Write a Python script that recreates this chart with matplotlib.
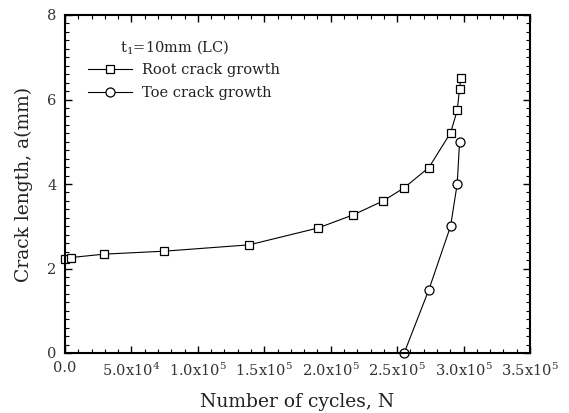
import matplotlib
matplotlib.use("Agg")
import matplotlib.pyplot as plt
from matplotlib.ticker import MultipleLocator, FixedLocator, FixedFormatter

plt.rcParams['font.family'] = ['DejaVu Serif']
plt.rcParams['mathtext.fontset'] = 'dejavuserif'

root_n = [0, 4.5e3, 2.96e4, 7.47e4, 1.387e5, 1.906e5, 2.17e5, 2.395e5, 2.553e5, 2.739e5, 2.902e5, 2.952e5, 2.970e5, 2.980e5]
root_a = [2.22, 2.26, 2.34, 2.41, 2.56, 2.96, 3.27, 3.60, 3.91, 4.39, 5.21, 5.74, 6.26, 6.52]
toe_n = [2.553e5, 2.739e5, 2.902e5, 2.952e5, 2.970e5]
toe_a = [0.0, 1.5, 3.0, 4.0, 5.0]

xticks = [0, 5e4, 1e5, 1.5e5, 2e5, 2.5e5, 3e5, 3.5e5]
xticklabels = ["0.0", "5.0x10$^4$", "1.0x10$^5$", "1.5x10$^5$", "2.0x10$^5$",
               "2.5x10$^5$", "3.0x10$^5$", "3.5x10$^5$"]
yticks = [0, 2, 4, 6, 8]

fig = plt.figure(figsize=(5.69, 4.13), dpi=100)
ax = fig.add_axes([65/569, 60/413, 465/569, 338/413])

ax.plot(root_n, root_a, color='black', lw=0.8, marker='s', ms=6,
        mfc='white', mec='black', mew=0.9, clip_on=False, label='Root crack growth')
ax.plot(toe_n, toe_a, color='black', lw=0.8, marker='o', ms=6.5,
        mfc='white', mec='black', mew=0.9, clip_on=False, label='Toe crack growth')

ax.set_xlim(0, 3.5e5)
ax.set_ylim(0, 8)
ax.xaxis.set_major_locator(FixedLocator(xticks))
ax.xaxis.set_major_formatter(FixedFormatter(xticklabels))
ax.xaxis.set_minor_locator(MultipleLocator(1e4))
ax.set_yticks(yticks)
ax.yaxis.set_minor_locator(MultipleLocator(0.2))

ax.tick_params(which='both', direction='in', top=True, right=True, labelsize=10.5, colors='black')
ax.tick_params(which='major', length=5, width=1.0, pad=6)
ax.tick_params(which='minor', length=3, width=0.8)
for lab in ax.get_xticklabels() + ax.get_yticklabels():
    lab.set_color('#333333')
for s in ax.spines.values():
    s.set_linewidth(1.5)

ax.set_xlabel("Number of cycles, N", fontsize=13.5, labelpad=10, color='#222222')
ax.set_ylabel("Crack length, a(mm)", fontsize=13.5, labelpad=10, color='#222222')

ax.text((120-65)/465, 1 - (47-15)/338, "t$_1$=10mm (LC)", transform=ax.transAxes,
        fontsize=10.5, va='center', ha='left', color='#222222')
leg = ax.legend(loc='upper left', bbox_to_anchor=((88-65)/465, 1 - (63-15)/338),
                frameon=False, fontsize=10.5, handlelength=3.0, handletextpad=0.7,
                labelspacing=0.6, borderaxespad=0, borderpad=0)
for t in leg.get_texts():
    t.set_color('#222222')

fig.savefig("out.png", dpi=100)
